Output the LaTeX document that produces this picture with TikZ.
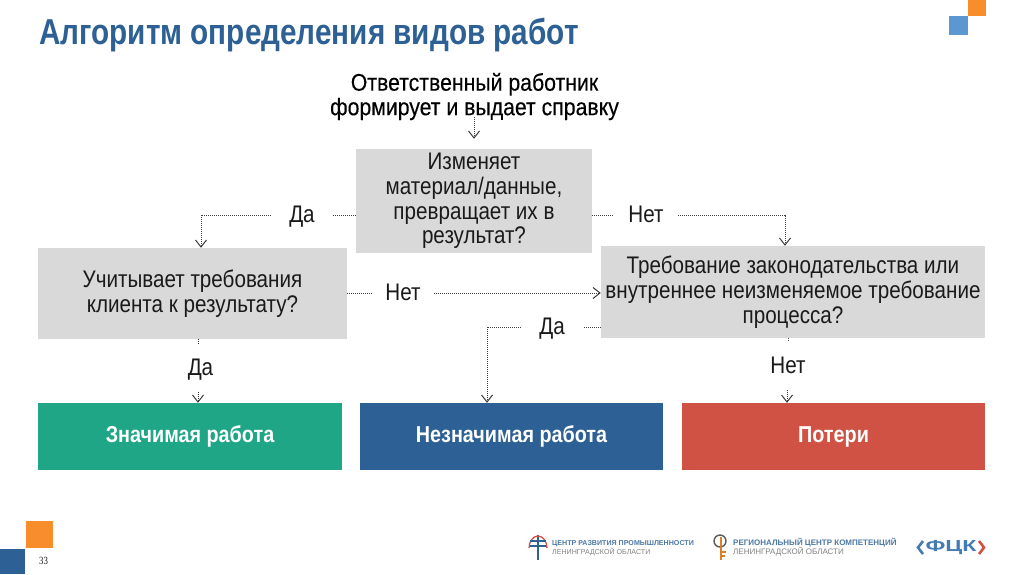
\documentclass[tikz,border=0pt]{standalone}
\usepackage{fontspec}
\setmainfont{Liberation Sans}[FakeStretch=0.86]
\newfontfamily\plainsans{Liberation Sans}
\newfontfamily\widesans{Liberation Sans}[FakeStretch=1.45]
\newfontfamily\titlesans{Liberation Sans Bold}[FakeStretch=0.825]
\newfontfamily\headsans{Liberation Sans}[FakeStretch=0.885,FakeBold=0.25]
\newfontfamily\serifnum{Liberation Serif}[FakeStretch=0.8]
\usetikzlibrary{arrows.meta}
\definecolor{tblue}{HTML}{2D6094}
\definecolor{tgreen}{HTML}{1FA687}
\definecolor{tred}{HTML}{D05244}
\definecolor{tgrey}{HTML}{D9D9D9}
\definecolor{torange}{HTML}{F78D2B}
\definecolor{lblue}{HTML}{5B97D1}
\definecolor{ink}{HTML}{1A1A1A}
\tikzset{
  x=1pt,y=-1pt,
  box/.style={fill=tgrey,draw=none,inner sep=0pt,align=center,text=ink,font=\fontsize{24}{24.8}\selectfont},
  result/.style={draw=none,inner sep=0pt,align=center,text=white,text height=16.5pt,text depth=4pt,font=\bfseries\fontsize{23}{24}\selectfont},
  lab/.style={inner sep=0pt,align=center,text=ink,text height=14pt,text depth=0pt,font=\fontsize{24}{25}\selectfont},
  headtext/.style={inner sep=0pt,align=center,text=black,font=\headsans\fontsize{24}{24.5}\selectfont},
  link/.style={draw=ink!85,densely dotted,line width=1pt},
  linkend/.style={link,-{Straight Barb[length=7pt,width=11pt,line width=1pt]}},
}
\begin{document}
\begin{tikzpicture}
\useasboundingbox (0,0) rectangle (1024,574);
\fill[white] (0,0) rectangle (1024,574);
% corner squares
\fill[torange] (968,0) rectangle (986,16);
\fill[lblue] (949,16) rectangle (968,35);
\fill[tblue] (0,549) rectangle (25,574);
\fill[torange] (26,521) rectangle (53,548);
\node[inner sep=0pt,text=ink,font=\serifnum\fontsize{11}{13}\selectfont] (pagenum) at (43.5,561) {33};
% title
\node[anchor=west,inner sep=0pt,text=tblue,font=\titlesans\fontsize{36}{40}\selectfont] (title) at (39,35.5) {Алгоритм определения видов работ};
% boxes
\node[headtext,minimum width=300pt,minimum height=37pt] (head) at (474.5,96.5) {Ответственный работник\\формирует и выдает справку};
\node[box,minimum width=236pt,minimum height=104pt] (q1) at (474,201) {Изменяет\\материал/данные,\\превращает их в\\результат?};
\node[box,minimum width=309pt,minimum height=91pt] (q2) at (192.5,293.5) {Учитывает требования\\клиента к результату?};
\node[box,minimum width=384pt,minimum height=92pt] (q3) at (793,292) {Требование законодательства или\\внутреннее неизменяемое требование\\процесса?};
\node[result,fill=tgreen,minimum width=304pt,minimum height=67pt] (r1) at (190,436.5) {Значимая работа};
\node[result,fill=tblue,minimum width=303pt,minimum height=67pt] (r2) at (511.5,436.5) {Незначимая работа};
\node[result,fill=tred,minimum width=303pt,minimum height=67pt] (r3) at (833.5,436.5) {Потери};
% labels
\node[lab,minimum width=62pt,minimum height=20pt] (da1) at (302,215) {Да};
\node[lab,minimum width=64pt,minimum height=20pt] (net1) at (646,215) {Нет};
\node[lab,minimum width=62pt,minimum height=20pt] (net2) at (403,293) {Нет};
\node[lab,minimum width=62pt,minimum height=20pt] (da2) at (552,327) {Да};
\node[lab,minimum width=30pt,minimum height=48pt] (da3) at (200.5,368) {Да};
\node[lab,minimum width=40pt,minimum height=48pt] (net3) at (788,366) {Нет};
% connectors
\draw[linkend] ([xshift=-0.5pt,yshift=3pt]head.south) -- ([yshift=10pt]q1.north);
\draw[link] (q1.west |- da1) -- (da1.east);
\draw[linkend] (da1.west) -| ([xshift=8.5pt]q2.north);
\draw[link] (q1.east |- net1) -- (net1.west);
\draw[linkend] (net1.east) -| ([xshift=-8pt]q3.north);
\draw[link] (q2.east |- net2) -- (net2.west);
\draw[linkend] (net2.east) -- (q3.west |- net2);
\draw[link] (q3.west |- da2) -- (da2.east);
\draw[linkend] (da2.west) -| ([xshift=-24.5pt]r2.north);
\draw[link] ([xshift=5.5pt]q2.south) -- ([xshift=5.5pt]q2.south |- da3.north);
\draw[linkend] ([xshift=-2.5pt]da3.south) -- ([xshift=-2.5pt]da3.south |- r1.north);
\draw[link] ([xshift=-5pt]q3.south) -- ([xshift=-5pt]q3.south |- net3.north);
\draw[linkend] ([xshift=-1pt]net3.south) -- ([xshift=-1pt]net3.south |- r3.north);
% footer logos
\begin{scope}[line width=1.3pt]
  \draw[tblue] (538,535) -- (538,560);
  \draw[tred] (529,548) arc[start angle=180,end angle=0,x radius=9,y radius=-12];
  \draw[tblue] (530,541) -- (546,541);
  \draw[tblue] (530,546) -- (546,546);
\end{scope}
\node[anchor=west,inner sep=0pt,align=left,text=tblue!85,font=\plainsans\fontsize{7.1}{8.5}\selectfont] (logoa) at (552,548) {\textbf{ЦЕНТР РАЗВИТИЯ ПРОМЫШЛЕННОСТИ}\\\textcolor{black!50}{ЛЕНИНГРАДСКОЙ ОБЛАСТИ}};
\begin{scope}[line width=1.4pt]
  \draw[black!65] (720,541) circle[radius=6];
  \draw[torange!90!black] (721,537) -- (721,560);
  \draw[torange!90!black] (721,552) -- (726,552);
  \draw[torange!90!black] (721,556) -- (725,556);
\end{scope}
\node[anchor=west,inner sep=0pt,align=left,text=tblue!85,font=\plainsans\fontsize{8}{9.5}\selectfont] (logob) at (733,547) {\textbf{РЕГИОНАЛЬНЫЙ ЦЕНТР КОМПЕТЕНЦИЙ}\\\textcolor{black!50}{ЛЕНИНГРАДСКОЙ ОБЛАСТИ}};
\node[inner sep=0pt,text=lblue!50!tblue,font=\widesans\bfseries\fontsize{16}{17}\selectfont] (logoc) at (951,547.5) {ФЦК};
\draw[lblue!50!tblue,line width=2.6pt] (923,541) -- (918,547.5) -- (923,554);
\draw[tred,line width=2.6pt] (979,541) -- (984,547.5) -- (979,554);
\end{tikzpicture}
\end{document}
